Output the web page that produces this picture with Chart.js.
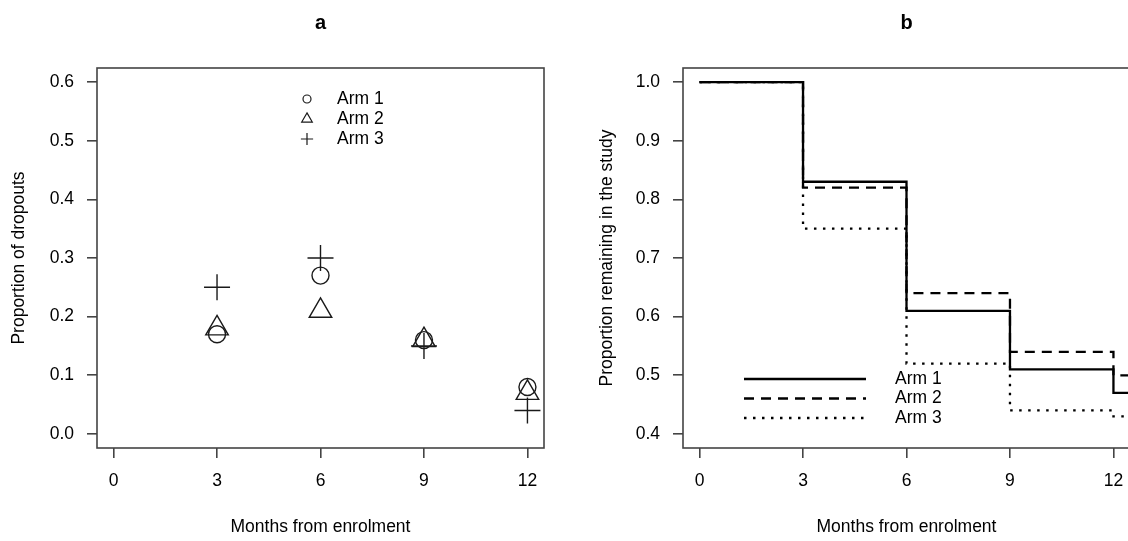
<!DOCTYPE html>
<html>
<head>
<meta charset="utf-8">
<script src="https://cdn.jsdelivr.net/npm/chart.js@4.4.1/dist/chart.umd.min.js"></script>
<style>
  html, body { margin: 0; padding: 0; background: #fff; width: 1128px; height: 541px; overflow: hidden; }
  .panel { position: absolute; top: 0; }
  #panelA { left: 0; }
  #panelB { left: 586px; }
</style>
</head>
<body>
<div class="panel" id="panelA"><canvas id="chartA" width="564" height="541"></canvas></div>
<div class="panel" id="panelB"><canvas id="chartB" width="564" height="541"></canvas></div>
<script>
// data
const armLabels = ["Arm 1", "Arm 2", "Arm 3"];

const monthsA = [3, 6, 9, 12];
const dropArm1 = [0.17, 0.27, 0.16, 0.08];
const dropArm2 = [0.18, 0.21, 0.16, 0.07];
const dropArm3 = [0.25, 0.30, 0.15, 0.04];

const monthsB = [0, 3, 6, 9, 12, 13];
const remainArm1 = [1.0, 0.83, 0.61, 0.51, 0.47, 0.47];
const remainArm2 = [1.0, 0.82, 0.64, 0.54, 0.50, 0.50];
const remainArm3 = [1.0, 0.75, 0.52, 0.44, 0.43, 0.43];

const xTicks = [0, 3, 6, 9, 12];
const yTicksA = [0.0, 0.1, 0.2, 0.3, 0.4, 0.5, 0.6];
const yTicksB = [0.4, 0.5, 0.6, 0.7, 0.8, 0.9, 1.0];

const FONT = '"Liberation Sans", Arial, Helvetica, sans-serif';
Chart.defaults.font.family = FONT;
Chart.defaults.font.size = 17.5;
Chart.defaults.color = "#000";

const pts = (xs, ys) => xs.map((x, i) => ({ x, y: ys[i] }));

function drawSymbol(ctx, style, r, x, y) {
  if (Chart.helpers && Chart.helpers.drawPoint) {
    Chart.helpers.drawPoint(ctx, { pointStyle: style, radius: r, rotation: 0, borderWidth: ctx.lineWidth }, x, y);
    return;
  }
  ctx.beginPath();
  if (style === "circle") ctx.arc(x, y, r, 0, Math.PI * 2);
  else if (style === "triangle") {
    ctx.moveTo(x, y - r);
    ctx.lineTo(x + r * 0.866, y + r / 2);
    ctx.lineTo(x - r * 0.866, y + r / 2);
    ctx.closePath();
  } else {
    ctx.moveTo(x - r, y); ctx.lineTo(x + r, y);
    ctx.moveTo(x, y - r); ctx.lineTo(x, y + r);
  }
  ctx.stroke();
}

// R style box round the plot region
const boxPlugin = {
  id: "box",
  afterDraw(chart) {
    const { ctx, chartArea: a } = chart;
    ctx.save();
    ctx.strokeStyle = "#444";
    ctx.lineWidth = 1.6;
    ctx.strokeRect(a.left, a.top, a.right - a.left, a.bottom - a.top);
    ctx.restore();
  }
};

// legend placed inside the plot like legend() in R
const insetLegend = {
  id: "insetLegend",
  afterDatasetsDraw(chart, args, opts) {
    const { ctx, chartArea: a } = chart;
    ctx.save();
    ctx.font = "17.5px " + FONT;
    ctx.textBaseline = "middle";
    chart.data.datasets.forEach((ds, i) => {
      const y = a.top + opts.top + i * opts.gap;
      if (opts.kind === "line") {
        ctx.strokeStyle = ds.borderColor;
        ctx.lineWidth = ds.borderWidth;
        ctx.setLineDash(ds.borderDash || []);
        ctx.beginPath();
        ctx.moveTo(a.left + opts.lineFrom, y);
        ctx.lineTo(a.left + opts.lineTo, y);
        ctx.stroke();
        ctx.setLineDash([]);
      } else {
        ctx.strokeStyle = ds.pointBorderColor;
        ctx.lineWidth = 1.2;
        ctx.fillStyle = "rgba(0,0,0,0)";
        drawSymbol(ctx, ds.pointStyle, ds.pointRadius * opts.symbolScale, a.left + opts.symbolX, y);
      }
      ctx.fillStyle = "#000";
      ctx.fillText(ds.label, a.left + opts.textX, y);
    });
    ctx.restore();
  }
};

function axes(yMin, yMax, yTicks, yTitle, titlePadTop) {
  const grid = { display: true, drawOnChartArea: false, drawTicks: true, tickLength: 10, color: "#444", lineWidth: 1.6 };
  return {
    x: {
      type: "linear",
      min: -0.48,
      max: 12.48,
      afterBuildTicks: s => { s.ticks = xTicks.map(v => ({ value: v })); },
      afterFit: s => { s.height = 93; },
      ticks: { padding: 13, maxRotation: 0, callback: v => String(v) },
      grid,
      border: { display: false },
      title: { display: true, text: "Months from enrolment", padding: { top: 0, bottom: 3 } }
    },
    y: {
      type: "linear",
      min: yMin,
      max: yMax,
      afterBuildTicks: s => { s.ticks = yTicks.map(v => ({ value: v })); },
      afterFit: s => { s.width = 97; },
      ticks: { padding: 13, callback: v => Number(v).toFixed(1) },
      grid,
      border: { display: false },
      title: { display: true, text: yTitle, padding: { top: titlePadTop, bottom: 0 } }
    }
  };
}

function baseOptions(letter) {
  return {
    responsive: false,
    animation: false,
    events: [],
    layout: { padding: { left: 0, right: 20, top: 0, bottom: 0 } },
    plugins: {
      legend: { display: false },
      tooltip: { enabled: false },
      title: {
        display: true,
        text: letter,
        fullSize: false,
        font: { size: 20, weight: "bold" },
        padding: { top: 11, bottom: 33 }
      }
    }
  };
}

const pointStyles = ["circle", "triangle", "cross"];
const pointRadii = [8.5, 13, 13];
const dropSeries = [dropArm1, dropArm2, dropArm3];

new Chart(document.getElementById("chartA"), {
  type: "scatter",
  data: {
    datasets: dropSeries.map((ys, i) => ({
      label: armLabels[i],
      data: pts(monthsA, ys),
      showLine: false,
      pointStyle: pointStyles[i],
      pointRadius: pointRadii[i],
      pointBorderColor: "#1a1a1a",
      pointBackgroundColor: "rgba(0,0,0,0)",
      pointBorderWidth: 1.4
    }))
  },
  options: {
    ...baseOptions("a"),
    scales: axes(-0.024, 0.624, yTicksA, "Proportion of dropouts", 9),
    plugins: {
      ...baseOptions("a").plugins,
      insetLegend: { kind: "point", symbolX: 210, textX: 240, top: 31, gap: 20, symbolScale: 0.47 }
    }
  },
  plugins: [boxPlugin, insetLegend]
});

const remainSeries = [remainArm1, remainArm2, remainArm3];
const dashes = [[], [10, 7], [2.5, 6.5]];

new Chart(document.getElementById("chartB"), {
  type: "line",
  data: {
    datasets: remainSeries.map((ys, i) => ({
      label: armLabels[i],
      data: pts(monthsB, ys),
      stepped: "before",
      borderColor: "#000",
      borderWidth: 2.3,
      borderDash: dashes[i],
      borderCapStyle: "butt",
      pointRadius: 0,
      fill: false
    }))
  },
  options: {
    ...baseOptions("b"),
    scales: axes(0.376, 1.024, yTicksB, "Proportion remaining in the study", 11),
    plugins: {
      ...baseOptions("b").plugins,
      insetLegend: { kind: "line", lineFrom: 61, lineTo: 183, textX: 212, top: 311, gap: 19.5 }
    }
  },
  plugins: [boxPlugin, insetLegend]
});
</script>
</body>
</html>
